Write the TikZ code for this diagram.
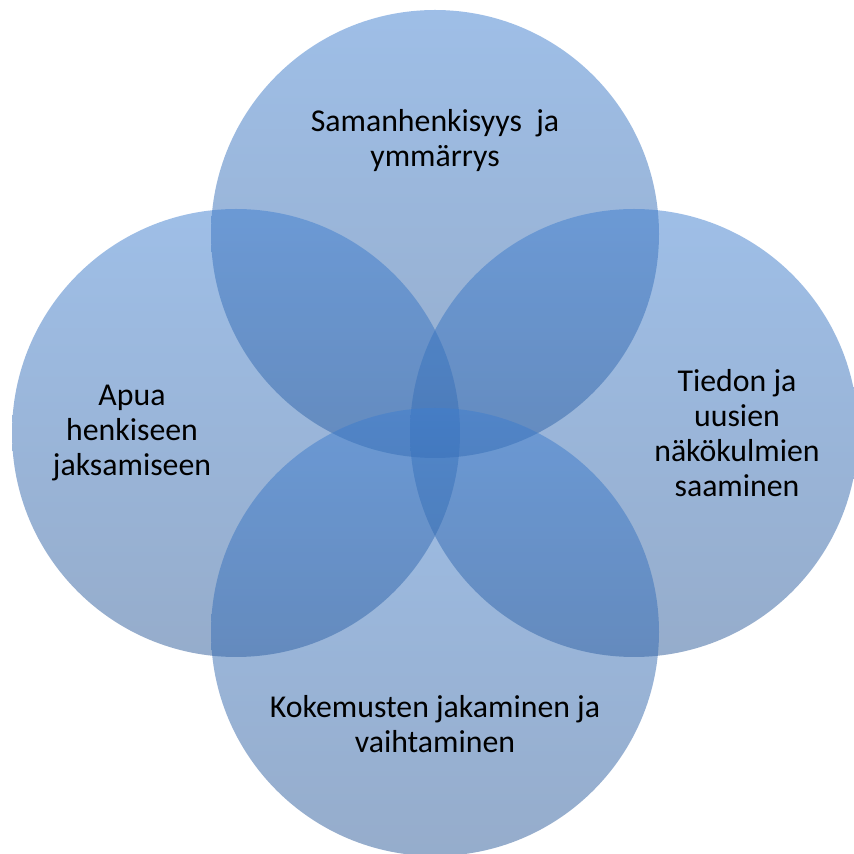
\documentclass[tikz,border=0pt]{standalone}
\usepackage{fontspec}
\setmainfont{Carlito}
\begin{document}
\begin{tikzpicture}[x=1pt,y=1pt,
  venn/.style={circle, minimum size=448pt, inner sep=0pt, draw=none,
    top color={rgb,255:red,62;green,126;blue,207},
    bottom color={rgb,255:red,44;green,90;blue,152},
    fill opacity=0.5},
  lbl/.style={align=center, font=\fontsize{31.8}{35}\selectfont, text=black}]
\useasboundingbox (0,0) rectangle (854,854);
\node[venn] (ctop) at (435,620) {};
\node[venn] (cleft) at (236,421) {};
\node[venn] (cright) at (634,421) {};
\node[venn] (cbot) at (435,222) {};
\node[lbl] (ttop) at (435,713) {Samanhenkisyys\ \ ja\\ymmärrys};
\node[lbl] (tleft) at (132,421) {Apua\\henkiseen\\jaksamiseen};
\node[lbl] (tright) at (737,421) {Tiedon ja\\uusien\\näkökulmien\\saaminen};
\node[lbl] (tbot) at (435,130) {Kokemusten jakaminen ja\\vaihtaminen};
\end{tikzpicture}
\end{document}
